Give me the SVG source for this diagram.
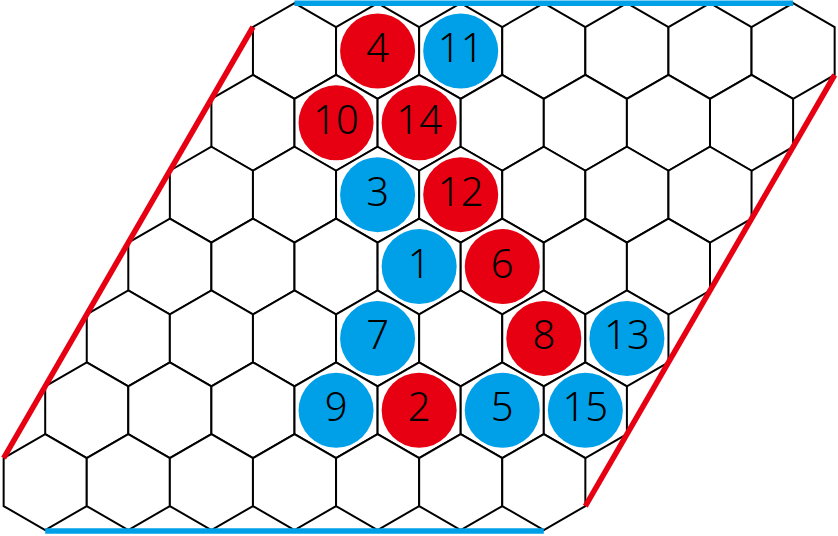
<svg xmlns="http://www.w3.org/2000/svg" xmlns:xlink="http://www.w3.org/1999/xlink" width="838" height="536" viewBox="0 0 838 536">
<style>
.cell{fill:#fff;stroke:#000;stroke-width:2;stroke-linejoin:miter}
.red{fill:#e60012}
.blue{fill:#00a0e9}
.num{font-family:"Noto Sans","Liberation Sans",sans-serif;font-weight:300;font-size:40px;fill:#000;text-anchor:middle}
.edgeR{stroke:#e60012;stroke-width:5.5;fill:none}
.edgeB{stroke:#00a0e9;stroke-width:5.5;fill:none}
</style>
<defs>
<polygon id="hex" points="0,-47.95 41.55,-23.98 41.55,23.98 0,47.95 -41.55,23.98 -41.55,-23.98"/>
</defs>
<rect width="838" height="536" fill="#fff"/>
<g id="board">
<g id="row0">
<use href="#hex" class="cell" x="294.5" y="51"/><use href="#hex" class="cell" x="377.6" y="51"/><use href="#hex" class="cell" x="460.7" y="51"/><use href="#hex" class="cell" x="543.8" y="51"/><use href="#hex" class="cell" x="626.9" y="51"/><use href="#hex" class="cell" x="710" y="51"/><use href="#hex" class="cell" x="793.1" y="51"/>
</g>
<g id="row1">
<use href="#hex" class="cell" x="252.95" y="122.85"/><use href="#hex" class="cell" x="336.05" y="122.85"/><use href="#hex" class="cell" x="419.15" y="122.85"/><use href="#hex" class="cell" x="502.25" y="122.85"/><use href="#hex" class="cell" x="585.35" y="122.85"/><use href="#hex" class="cell" x="668.45" y="122.85"/><use href="#hex" class="cell" x="751.55" y="122.85"/>
</g>
<g id="row2">
<use href="#hex" class="cell" x="211.4" y="194.7"/><use href="#hex" class="cell" x="294.5" y="194.7"/><use href="#hex" class="cell" x="377.6" y="194.7"/><use href="#hex" class="cell" x="460.7" y="194.7"/><use href="#hex" class="cell" x="543.8" y="194.7"/><use href="#hex" class="cell" x="626.9" y="194.7"/><use href="#hex" class="cell" x="710" y="194.7"/>
</g>
<g id="row3">
<use href="#hex" class="cell" x="169.85" y="266.55"/><use href="#hex" class="cell" x="252.95" y="266.55"/><use href="#hex" class="cell" x="336.05" y="266.55"/><use href="#hex" class="cell" x="419.15" y="266.55"/><use href="#hex" class="cell" x="502.25" y="266.55"/><use href="#hex" class="cell" x="585.35" y="266.55"/><use href="#hex" class="cell" x="668.45" y="266.55"/>
</g>
<g id="row4">
<use href="#hex" class="cell" x="128.3" y="338.4"/><use href="#hex" class="cell" x="211.4" y="338.4"/><use href="#hex" class="cell" x="294.5" y="338.4"/><use href="#hex" class="cell" x="377.6" y="338.4"/><use href="#hex" class="cell" x="460.7" y="338.4"/><use href="#hex" class="cell" x="543.8" y="338.4"/><use href="#hex" class="cell" x="626.9" y="338.4"/>
</g>
<g id="row5">
<use href="#hex" class="cell" x="86.75" y="410.25"/><use href="#hex" class="cell" x="169.85" y="410.25"/><use href="#hex" class="cell" x="252.95" y="410.25"/><use href="#hex" class="cell" x="336.05" y="410.25"/><use href="#hex" class="cell" x="419.15" y="410.25"/><use href="#hex" class="cell" x="502.25" y="410.25"/><use href="#hex" class="cell" x="585.35" y="410.25"/>
</g>
<g id="row6">
<use href="#hex" class="cell" x="45.2" y="482.1"/><use href="#hex" class="cell" x="128.3" y="482.1"/><use href="#hex" class="cell" x="211.4" y="482.1"/><use href="#hex" class="cell" x="294.5" y="482.1"/><use href="#hex" class="cell" x="377.6" y="482.1"/><use href="#hex" class="cell" x="460.7" y="482.1"/><use href="#hex" class="cell" x="543.8" y="482.1"/>
</g>
</g>
<g id="edges">
<line class="edgeR" x1="252.95" y1="27" x2="3.65" y2="458.1"/>
<line class="edgeR" x1="834.65" y1="75" x2="585.35" y2="506.1"/>
<line class="edgeB" x1="294.5" y1="3.2" x2="793.1" y2="3.2"/>
<line class="edgeB" x1="45.2" y1="531" x2="543.8" y2="531"/>
</g>
<g id="stones">
<g id="s1"><circle class="blue" cx="419.15" cy="266.55" r="37.5"/><text class="num" x="419.15" y="277.55">1</text></g>
<g id="s2"><circle class="red" cx="419.15" cy="410.25" r="37.5"/><text class="num" x="419.15" y="421.25">2</text></g>
<g id="s3"><circle class="blue" cx="377.6" cy="194.7" r="37.5"/><text class="num" x="377.6" y="205.7">3</text></g>
<g id="s4"><circle class="red" cx="377.6" cy="51" r="37.5"/><text class="num" x="377.6" y="62">4</text></g>
<g id="s5"><circle class="blue" cx="502.25" cy="410.25" r="37.5"/><text class="num" x="502.25" y="421.25">5</text></g>
<g id="s6"><circle class="red" cx="502.25" cy="266.55" r="37.5"/><text class="num" x="502.25" y="277.55">6</text></g>
<g id="s7"><circle class="blue" cx="377.6" cy="338.4" r="37.5"/><text class="num" x="377.6" y="349.4">7</text></g>
<g id="s8"><circle class="red" cx="543.8" cy="338.4" r="37.5"/><text class="num" x="543.8" y="349.4">8</text></g>
<g id="s9"><circle class="blue" cx="336.05" cy="410.25" r="37.5"/><text class="num" x="336.05" y="421.25">9</text></g>
<g id="s10"><circle class="red" cx="336.05" cy="122.85" r="37.5"/><text class="num" x="336.05" y="133.85">10</text></g>
<g id="s11"><circle class="blue" cx="460.7" cy="51" r="37.5"/><text class="num" x="460.7" y="62">11</text></g>
<g id="s12"><circle class="red" cx="460.7" cy="194.7" r="37.5"/><text class="num" x="460.7" y="205.7">12</text></g>
<g id="s13"><circle class="blue" cx="626.9" cy="338.4" r="37.5"/><text class="num" x="626.9" y="349.4">13</text></g>
<g id="s14"><circle class="red" cx="419.15" cy="122.85" r="37.5"/><text class="num" x="419.15" y="133.85">14</text></g>
<g id="s15"><circle class="blue" cx="585.35" cy="410.25" r="37.5"/><text class="num" x="585.35" y="421.25">15</text></g>
</g>
</svg>
